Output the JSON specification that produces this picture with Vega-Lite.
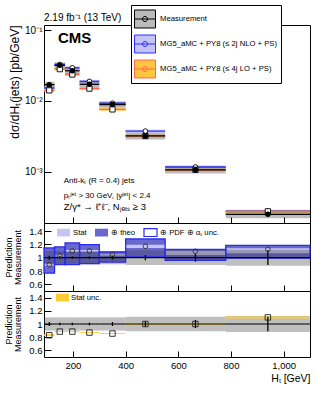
{
  "$schema": "https://vega.github.io/schema/vega-lite/v6.json",
  "padding": {"left": 3, "top": 4, "right": 0, "bottom": 0},
  "background": "white",
  "spacing": 0,
  "bounds": "flush",
  "resolve": {"scale": {"fill": "independent", "stroke": "independent"}, "legend": {"fill": "independent", "stroke": "independent"}},
  "config": {
    "font": "Liberation Sans",
    "view": {"stroke": "black", "strokeWidth": 1},
    "axis": {"labelFont": "Liberation Sans", "titleFont": "Liberation Sans", "labelColor": "black", "titleColor": "black", "tickColor": "black", "tickWidth": 1, "domain": false, "grid": false, "labelFontSize": 9, "titleFontSize": 9, "titleFontWeight": "normal"},
    "legend": {"labelFont": "Liberation Sans", "labelColor": "black"},
    "text": {"font": "Liberation Sans", "color": "black"}
  },
  "datasets": {
    "bins": [
      {"x0": 90, "x1": 130, "c": 110, "m": 0.0170, "m_lo": 0.0153, "m_hi": 0.0187, "nlo": 0.01522, "nlo_lo": 0.01446, "nlo_hi": 0.01598, "lov": 0.01411, "lov_lo": 0.01355, "lov_hi": 0.01467, "mu_lo": 0.90, "mu_hi": 1.10, "ms_lo": 0.97, "ms_hi": 1.03, "r_nlo": 0.895, "t_lo": 0.77, "t_hi": 1.145, "h_lo": 0.775, "h_hi": 1.14, "s_lo": 0.88, "s_hi": 0.91, "r_lo": 0.83, "rs_lo": 0.82, "rs_hi": 0.845},
      {"x0": 130, "x1": 170, "c": 150, "m": 0.0318, "m_lo": 0.02862, "m_hi": 0.03498, "nlo": 0.03275, "nlo_lo": 0.03111, "nlo_hi": 0.03439, "lov": 0.02814, "lov_lo": 0.02701, "lov_hi": 0.02927, "mu_lo": 0.90, "mu_hi": 1.10, "ms_lo": 0.98, "ms_hi": 1.02, "r_nlo": 1.03, "t_lo": 0.895, "t_hi": 1.16, "h_lo": 0.9, "h_hi": 1.155, "s_lo": 1.015, "s_hi": 1.045, "r_lo": 0.885, "rs_lo": 0.878, "rs_hi": 0.892},
      {"x0": 170, "x1": 225, "c": 197.5, "m": 0.0267, "m_lo": 0.02403, "m_hi": 0.02937, "nlo": 0.02937, "nlo_lo": 0.0279, "nlo_hi": 0.03084, "lov": 0.02363, "lov_lo": 0.02268, "lov_hi": 0.02458, "mu_lo": 0.90, "mu_hi": 1.10, "ms_lo": 0.98, "ms_hi": 1.02, "r_nlo": 1.10, "t_lo": 0.895, "t_hi": 1.22, "h_lo": 0.9, "h_hi": 1.215, "s_lo": 1.085, "s_hi": 1.115, "r_lo": 0.885, "rs_lo": 0.878, "rs_hi": 0.892},
      {"x0": 225, "x1": 300, "c": 262.5, "m": 0.0172, "m_lo": 0.01548, "m_hi": 0.01892, "nlo": 0.01892, "nlo_lo": 0.01797, "nlo_hi": 0.01987, "lov": 0.01496, "lov_lo": 0.01436, "lov_hi": 0.01556, "mu_lo": 0.90, "mu_hi": 1.10, "ms_lo": 0.98, "ms_hi": 1.02, "r_nlo": 1.10, "t_lo": 0.91, "t_hi": 1.195, "h_lo": 0.915, "h_hi": 1.19, "s_lo": 1.085, "s_hi": 1.115, "r_lo": 0.87, "rs_lo": 0.863, "rs_hi": 0.877},
      {"x0": 300, "x1": 400, "c": 350, "m": 0.0089, "m_lo": 0.00801, "m_hi": 0.00979, "nlo": 0.0093, "nlo_lo": 0.008835, "nlo_hi": 0.009765, "lov": 0.00761, "lov_lo": 0.00731, "lov_hi": 0.00791, "mu_lo": 0.90, "mu_hi": 1.10, "ms_lo": 0.97, "ms_hi": 1.03, "r_nlo": 1.045, "t_lo": 0.935, "t_hi": 1.085, "h_lo": 0.94, "h_hi": 1.08, "s_lo": 1.03, "s_hi": 1.06, "r_lo": 0.855, "rs_lo": 0.848, "rs_hi": 0.862},
      {"x0": 400, "x1": 550, "c": 475, "m": 0.00321, "m_lo": 0.002857, "m_hi": 0.003563, "nlo": 0.003756, "nlo_lo": 0.003568, "nlo_hi": 0.003944, "lov": 0.00321, "lov_lo": 0.00308, "lov_hi": 0.00334, "mu_lo": 0.89, "mu_hi": 1.11, "ms_lo": 0.96, "ms_hi": 1.04, "r_nlo": 1.17, "t_lo": 1.01, "t_hi": 1.28, "h_lo": 1.015, "h_hi": 1.275, "s_lo": 1.145, "s_hi": 1.195, "r_lo": 1.0, "rs_lo": 0.99, "rs_hi": 1.01},
      {"x0": 550, "x1": 780, "c": 665, "m": 0.00107, "m_lo": 0.000952, "m_hi": 0.001188, "nlo": 0.001172, "nlo_lo": 0.001113, "nlo_hi": 0.001231, "lov": 0.00107, "lov_lo": 0.00103, "lov_hi": 0.00111, "mu_lo": 0.89, "mu_hi": 1.11, "ms_lo": 0.94, "ms_hi": 1.06, "r_nlo": 1.095, "t_lo": 0.96, "t_hi": 1.125, "h_lo": 0.965, "h_hi": 1.12, "s_lo": 1.04, "s_hi": 1.1, "r_lo": 1.0, "rs_lo": 0.99, "rs_hi": 1.01},
      {"x0": 780, "x1": 1100, "c": 940, "m": 0.000252, "m_lo": 0.000222, "m_hi": 0.000282, "nlo": 0.000279, "nlo_lo": 0.000265, "nlo_hi": 0.000293, "lov": 0.000277, "lov_lo": 0.000266, "lov_hi": 0.000288, "mu_lo": 0.88, "mu_hi": 1.12, "ms_lo": 0.89, "ms_hi": 1.11, "r_nlo": 1.125, "t_lo": 0.995, "t_hi": 1.185, "h_lo": 1.0, "h_hi": 1.18, "s_lo": 1.065, "s_hi": 1.14, "r_lo": 1.10, "rs_lo": 1.085, "rs_hi": 1.115}
    ],
    "one": [{}]
  },
  "data": {"name": "bins"},
  "vconcat": [
    {
      "width": 266,
      "height": 198,
      "layer": [
        {
          "mark": {"type": "rect"},
          "encoding": {
            "x": {"field": "x0", "type": "quantitative", "scale": {"domain": [90, 1100], "nice": false, "zero": false},
                  "axis": {"title": null, "labels": false, "values": [200,400,600,800,1000], "tickSize": -6}},
            "x2": {"field": "x1"},
            "y": {"field": "nlo_lo", "type": "quantitative", "scale": {"type": "log", "domain": [0.00019, 0.118], "nice": false},
                  "axis": {"title": "dσ/dHₜ(jets)  [pb/GeV]", "titleAnchor": "end", "titleFontSize": 12, "titlePadding": 3,
                           "values": [0.001, 0.01, 0.1], "labelOverlap": false,
                           "labelExpr": "datum.value == 0.1 ? '10⁻¹' : datum.value == 0.01 ? '10⁻²' : '10⁻³'",
                           "labelFontSize": 10, "labelPadding": 9, "tickSize": -7}},
            "y2": {"field": "nlo_hi"},
            "fill": {"datum": "MG5_aMC + PY8 (≤ 2j NLO + PS)",
                     "scale": {"domain": ["Measurement", "MG5_aMC + PY8 (≤ 2j NLO + PS)", "MG5_aMC + PY8 (≤ 4j LO + PS)"], "range": ["rgba(60,60,60,0.35)", "#c3c3f7", "#ffc53d"]},
                     "legend": {"title": null, "orient": "none", "legendX": 87, "legendY": -20, "fillColor": "white", "strokeColor": "black", "padding": 3,
                                "symbolType": "M-1,-0.857H1V0.857H-1ZM-1,0H1M0.24,0A0.24,0.24,0,1,1,-0.24,0A0.24,0.24,0,1,1,0.24,0Z",
                                "symbolSize": 441, "symbolStrokeWidth": 1, "labelFontSize": 7.7, "labelOffset": 4, "rowPadding": 3, "labelLimit": 400,
                                "labelExpr": "datum.label + '\u00a0\u00a0\u00a0\u00a0\u00a0\u00a0\u00a0\u00a0\u00a0\u00a0\u00a0\u00a0\u00a0\u00a0\u00a0\u00a0\u00a0\u00a0\u00a0\u00a0\u00a0\u00a0\u00a0\u00a0'"}}
          }
        },
        {
          "mark": {"type": "rect"},
          "encoding": {
            "x": {"field": "x0", "type": "quantitative", "scale": {"domain": [90, 1100], "nice": false, "zero": false}},
            "x2": {"field": "x1"},
            "y": {"field": "lov_lo", "type": "quantitative", "scale": {"type": "log", "domain": [0.00019, 0.118], "nice": false}},
            "y2": {"field": "lov_hi"},
            "fill": {"datum": "MG5_aMC + PY8 (≤ 4j LO + PS)", "scale": {"domain": ["Measurement", "MG5_aMC + PY8 (≤ 2j NLO + PS)", "MG5_aMC + PY8 (≤ 4j LO + PS)"], "range": ["rgba(60,60,60,0.35)", "#c3c3f7", "#ffc53d"]}}
          }
        },
        {
          "mark": {"type": "rect"},
          "encoding": {
            "x": {"field": "x0", "type": "quantitative", "scale": {"domain": [90, 1100], "nice": false, "zero": false}},
            "x2": {"field": "x1"},
            "y": {"field": "m_lo", "type": "quantitative", "scale": {"type": "log", "domain": [0.00019, 0.118], "nice": false}},
            "y2": {"field": "m_hi"},
            "fill": {"datum": "Measurement", "scale": {"domain": ["Measurement", "MG5_aMC + PY8 (≤ 2j NLO + PS)", "MG5_aMC + PY8 (≤ 4j LO + PS)"], "range": ["rgba(60,60,60,0.35)", "#c3c3f7", "#ffc53d"]}}
          }
        },
        {
          "mark": {"type": "rule", "strokeWidth": 1.3},
          "encoding": {
            "x": {"field": "x0", "type": "quantitative", "scale": {"domain": [90, 1100], "nice": false, "zero": false}},
            "x2": {"field": "x1"},
            "y": {"field": "nlo", "type": "quantitative", "scale": {"type": "log", "domain": [0.00019, 0.118], "nice": false}},
            "stroke": {"datum": "MG5_aMC + PY8 (≤ 2j NLO + PS)", "scale": {"domain": ["Measurement", "MG5_aMC + PY8 (≤ 2j NLO + PS)", "MG5_aMC + PY8 (≤ 4j LO + PS)"], "range": ["black", "#2f2fff", "#ff6a4d"]},
                       "legend": {"title": null, "orient": "none", "legendX": 87, "legendY": -20}}
          }
        },
        {
          "mark": {"type": "rule", "strokeWidth": 1.3},
          "encoding": {
            "x": {"field": "x0", "type": "quantitative", "scale": {"domain": [90, 1100], "nice": false, "zero": false}},
            "x2": {"field": "x1"},
            "y": {"field": "lov", "type": "quantitative", "scale": {"type": "log", "domain": [0.00019, 0.118], "nice": false}},
            "stroke": {"datum": "MG5_aMC + PY8 (≤ 4j LO + PS)", "scale": {"domain": ["Measurement", "MG5_aMC + PY8 (≤ 2j NLO + PS)", "MG5_aMC + PY8 (≤ 4j LO + PS)"], "range": ["black", "#2f2fff", "#ff6a4d"]}}
          }
        },
        {
          "mark": {"type": "rule", "strokeWidth": 1.3},
          "encoding": {
            "x": {"field": "x0", "type": "quantitative", "scale": {"domain": [90, 1100], "nice": false, "zero": false}},
            "x2": {"field": "x1"},
            "y": {"field": "m", "type": "quantitative", "scale": {"type": "log", "domain": [0.00019, 0.118], "nice": false}},
            "stroke": {"datum": "Measurement", "scale": {"domain": ["Measurement", "MG5_aMC + PY8 (≤ 2j NLO + PS)", "MG5_aMC + PY8 (≤ 4j LO + PS)"], "range": ["black", "#2f2fff", "#ff6a4d"]}}
          }
        },
        {
          "mark": {"type": "point", "shape": "circle", "filled": true, "fill": "white", "stroke": "black", "strokeWidth": 0.9, "size": 22, "opacity": 1},
          "encoding": {
            "x": {"field": "c", "type": "quantitative", "scale": {"domain": [90, 1100], "nice": false, "zero": false}},
            "y": {"field": "nlo", "type": "quantitative", "scale": {"type": "log", "domain": [0.00019, 0.118], "nice": false}}
          }
        },
        {
          "mark": {"type": "point", "shape": "square", "filled": true, "fill": "white", "stroke": "black", "strokeWidth": 0.9, "size": 28, "opacity": 1},
          "encoding": {
            "x": {"field": "c", "type": "quantitative", "scale": {"domain": [90, 1100], "nice": false, "zero": false}},
            "y": {"field": "lov", "type": "quantitative", "scale": {"type": "log", "domain": [0.00019, 0.118], "nice": false}}
          }
        },
        {
          "mark": {"type": "circle", "color": "black", "size": 30, "opacity": 1},
          "encoding": {
            "x": {"field": "c", "type": "quantitative", "scale": {"domain": [90, 1100], "nice": false, "zero": false}},
            "y": {"field": "m", "type": "quantitative", "scale": {"type": "log", "domain": [0.00019, 0.118], "nice": false}}
          }
        },
        {
          "data": {"name": "one"},
          "mark": {"type": "text", "text": "2.19 fb⁻¹ (13 TeV)", "fontSize": 10, "fontWeight": "normal", "align": "left", "baseline": "alphabetic"},
          "encoding": {
            "x": {"datum": 90, "type": "quantitative", "scale": {"domain": [90, 1100], "nice": false, "zero": false}},
            "y": {"datum": 0.134, "type": "quantitative", "scale": {"type": "log", "domain": [0.00019, 0.118], "nice": false}}
          }
        },
        {
          "data": {"name": "one"},
          "mark": {"type": "text", "text": "CMS", "fontSize": 15, "fontWeight": "bold", "align": "left", "baseline": "alphabetic"},
          "encoding": {
            "x": {"datum": 143, "type": "quantitative", "scale": {"domain": [90, 1100], "nice": false, "zero": false}},
            "y": {"datum": 0.0658, "type": "quantitative", "scale": {"type": "log", "domain": [0.00019, 0.118], "nice": false}}
          }
        },
        {
          "data": {"name": "one"},
          "mark": {"type": "text", "text": "Anti-kₜ (R = 0.4) jets", "fontSize": 8, "fontWeight": "normal", "align": "left", "baseline": "alphabetic"},
          "encoding": {
            "x": {"datum": 165, "type": "quantitative", "scale": {"domain": [90, 1100], "nice": false, "zero": false}},
            "y": {"datum": 0.00069, "type": "quantitative", "scale": {"type": "log", "domain": [0.00019, 0.118], "nice": false}}
          }
        },
        {
          "data": {"name": "one"},
          "mark": {"type": "text", "text": "pₜʲᵉᵗ > 30 GeV, |yʲᵉᵗ| < 2.4", "fontSize": 8, "fontWeight": "normal", "align": "left", "baseline": "alphabetic"},
          "encoding": {
            "x": {"datum": 165, "type": "quantitative", "scale": {"domain": [90, 1100], "nice": false, "zero": false}},
            "y": {"datum": 0.000433, "type": "quantitative", "scale": {"type": "log", "domain": [0.00019, 0.118], "nice": false}}
          }
        },
        {
          "data": {"name": "one"},
          "mark": {"type": "text", "text": "Z/γ* → ℓ⁺ℓ⁻, Nⱼₑₜₛ ≥ 3", "fontSize": 9.5, "fontWeight": "normal", "align": "left", "baseline": "alphabetic"},
          "encoding": {
            "x": {"datum": 165, "type": "quantitative", "scale": {"domain": [90, 1100], "nice": false, "zero": false}},
            "y": {"datum": 0.00029, "type": "quantitative", "scale": {"type": "log", "domain": [0.00019, 0.118], "nice": false}}
          }
        }
      ]
    },
    {
      "width": 266,
      "height": 68,
      "layer": [
        {
          "mark": {"type": "rect"},
          "encoding": {
            "x": {"field": "x0", "type": "quantitative", "scale": {"domain": [90, 1100], "nice": false, "zero": false},
                  "axis": {"title": null, "labels": false, "values": [200,400,600,800,1000], "tickSize": -6}},
            "x2": {"field": "x1"},
            "y": {"field": "h_lo", "type": "quantitative", "scale": {"domain": [0.5, 1.52], "nice": false, "zero": false},
                  "axis": {"title": ["Prediction", "Measurement"], "titleFontSize": 9, "titleLineHeight": 9.5, "titlePadding": 6,
                           "tickCount": 5, "labelExpr": "datum.value == 1 ? '1' : datum.label", "labelOverlap": false, "labelFlush": false, "labelSeparation": 0, "labelBound": false, "labelFontSize": 9.5, "labelPadding": 9, "tickSize": -7}},
            "y2": {"field": "h_hi"},
            "fill": {"datum": "⊕ theo", "scale": {"domain": ["Stat", "⊕ theo", "⊕ PDF ⊕ αₛ unc."], "range": ["#c6c6f2", "#6868cf", "rgba(255,255,255,0)"]},
                     "legend": {"title": null, "orient": "none", "legendX": 12, "legendY": 2, "direction": "horizontal", "symbolType": "M-1,-0.6H1V0.6H-1Z", "symbolSize": 169, "symbolStrokeWidth": 1.2, "labelFontSize": 7.7, "labelOffset": 2, "columnPadding": 5, "padding": 0}},
            "stroke": {"datum": "⊕ theo", "scale": {"domain": ["Stat", "⊕ theo", "⊕ PDF ⊕ αₛ unc."], "range": ["rgba(0,0,0,0)", "rgba(0,0,0,0)", "#2a2af0"]},
                       "legend": {"title": null, "orient": "none", "legendX": 12, "legendY": 2, "direction": "horizontal"}}
          }
        },
        {
          "mark": {"type": "rect"},
          "encoding": {
            "x": {"field": "x0", "type": "quantitative", "scale": {"domain": [90, 1100], "nice": false, "zero": false}},
            "x2": {"field": "x1"},
            "y": {"field": "s_lo", "type": "quantitative", "scale": {"domain": [0.5, 1.52], "nice": false, "zero": false}},
            "y2": {"field": "s_hi"},
            "fill": {"datum": "Stat", "scale": {"domain": ["Stat", "⊕ theo", "⊕ PDF ⊕ αₛ unc."], "range": ["#c6c6f2", "#6868cf", "rgba(255,255,255,0)"]}}
          }
        },
        {
          "mark": {"type": "rect", "fill": "rgba(60,60,60,0.33)"},
          "encoding": {
            "x": {"field": "x0", "type": "quantitative", "scale": {"domain": [90, 1100], "nice": false, "zero": false}},
            "x2": {"field": "x1"},
            "y": {"field": "mu_lo", "type": "quantitative", "scale": {"domain": [0.5, 1.52], "nice": false, "zero": false}},
            "y2": {"field": "mu_hi"}
          }
        },
        {
          "mark": {"type": "rect", "strokeWidth": 1.3},
          "encoding": {
            "x": {"field": "x0", "type": "quantitative", "scale": {"domain": [90, 1100], "nice": false, "zero": false}},
            "x2": {"field": "x1"},
            "y": {"field": "t_lo", "type": "quantitative", "scale": {"domain": [0.5, 1.52], "nice": false, "zero": false}},
            "y2": {"field": "t_hi"},
            "fill": {"datum": "⊕ PDF ⊕ αₛ unc.", "scale": {"domain": ["Stat", "⊕ theo", "⊕ PDF ⊕ αₛ unc."], "range": ["#c6c6f2", "#6868cf", "rgba(255,255,255,0)"]}},
            "stroke": {"datum": "⊕ PDF ⊕ αₛ unc.", "scale": {"domain": ["Stat", "⊕ theo", "⊕ PDF ⊕ αₛ unc."], "range": ["rgba(0,0,0,0)", "rgba(0,0,0,0)", "#2a2af0"]}}
          }
        },
        {
          "data": {"name": "one"},
          "mark": {"type": "rule", "color": "black", "strokeWidth": 1.2},
          "encoding": {
            "y": {"datum": 1, "type": "quantitative", "scale": {"domain": [0.5, 1.52], "nice": false, "zero": false}}
          }
        },
        {
          "mark": {"type": "rule", "color": "black", "strokeWidth": 1.3},
          "encoding": {
            "x": {"field": "c", "type": "quantitative", "scale": {"domain": [90, 1100], "nice": false, "zero": false}},
            "y": {"field": "ms_lo", "type": "quantitative", "scale": {"domain": [0.5, 1.52], "nice": false, "zero": false}},
            "y2": {"field": "ms_hi"}
          }
        },
        {
          "mark": {"type": "point", "shape": "circle", "filled": true, "fill": "rgba(255,255,255,0)", "stroke": "#333", "strokeWidth": 0.9, "size": 22, "opacity": 1},
          "encoding": {
            "x": {"field": "c", "type": "quantitative", "scale": {"domain": [90, 1100], "nice": false, "zero": false}},
            "y": {"field": "r_nlo", "type": "quantitative", "scale": {"domain": [0.5, 1.52], "nice": false, "zero": false}}
          }
        }
      ]
    },
    {
      "width": 266,
      "height": 66,
      "layer": [
        {
          "mark": {"type": "rect", "fill": "rgba(60,60,60,0.33)"},
          "encoding": {
            "x": {"field": "x0", "type": "quantitative", "scale": {"domain": [90, 1100], "nice": false, "zero": false},
                  "axis": {"title": "Hₜ [GeV]", "titleAnchor": "end", "titleFontSize": 10.5, "titlePadding": 4, "labelOverlap": false, "labelFlush": false,
                           "values": [200,400,600,800,1000], "labelFontSize": 9.5, "labelPadding": 9, "tickSize": -6}},
            "x2": {"field": "x1"},
            "y": {"field": "mu_lo", "type": "quantitative", "scale": {"domain": [0.5, 1.5], "nice": false, "zero": false},
                  "axis": {"title": ["Prediction", "Measurement"], "titleFontSize": 9, "titleLineHeight": 9.5, "titlePadding": 6,
                           "tickCount": 5, "labelExpr": "datum.value == 1 ? '1' : datum.label", "labelOverlap": false, "labelFlush": false, "labelSeparation": 0, "labelBound": false, "labelFontSize": 9.5, "labelPadding": 9, "tickSize": -7}},
            "y2": {"field": "mu_hi"}
          }
        },
        {
          "mark": {"type": "rect"},
          "encoding": {
            "x": {"field": "x0", "type": "quantitative", "scale": {"domain": [90, 1100], "nice": false, "zero": false}},
            "x2": {"field": "x1"},
            "y": {"field": "rs_lo", "type": "quantitative", "scale": {"domain": [0.5, 1.5], "nice": false, "zero": false}},
            "y2": {"field": "rs_hi"},
            "fill": {"datum": "Stat unc.", "scale": {"domain": ["Stat unc."], "range": ["#ffcc33"]},
                     "legend": {"title": null, "orient": "none", "legendX": 12, "legendY": 0, "symbolType": "M-1,-0.6H1V0.6H-1Z", "symbolSize": 169, "symbolStrokeWidth": 0, "labelFontSize": 7.7, "labelOffset": 2, "padding": 0}}
          }
        },
        {
          "data": {"name": "one"},
          "mark": {"type": "rule", "color": "black", "strokeWidth": 1.2},
          "encoding": {
            "y": {"datum": 1, "type": "quantitative", "scale": {"domain": [0.5, 1.5], "nice": false, "zero": false}}
          }
        },
        {
          "mark": {"type": "rule", "color": "black", "strokeWidth": 1.3},
          "encoding": {
            "x": {"field": "c", "type": "quantitative", "scale": {"domain": [90, 1100], "nice": false, "zero": false}},
            "y": {"field": "ms_lo", "type": "quantitative", "scale": {"domain": [0.5, 1.5], "nice": false, "zero": false}},
            "y2": {"field": "ms_hi"}
          }
        },
        {
          "mark": {"type": "point", "shape": "square", "filled": true, "fill": "rgba(255,255,255,0)", "stroke": "#222", "strokeWidth": 0.9, "size": 30, "opacity": 1},
          "encoding": {
            "x": {"field": "c", "type": "quantitative", "scale": {"domain": [90, 1100], "nice": false, "zero": false}},
            "y": {"field": "r_lo", "type": "quantitative", "scale": {"domain": [0.5, 1.5], "nice": false, "zero": false}}
          }
        }
      ]
    }
  ]
}
